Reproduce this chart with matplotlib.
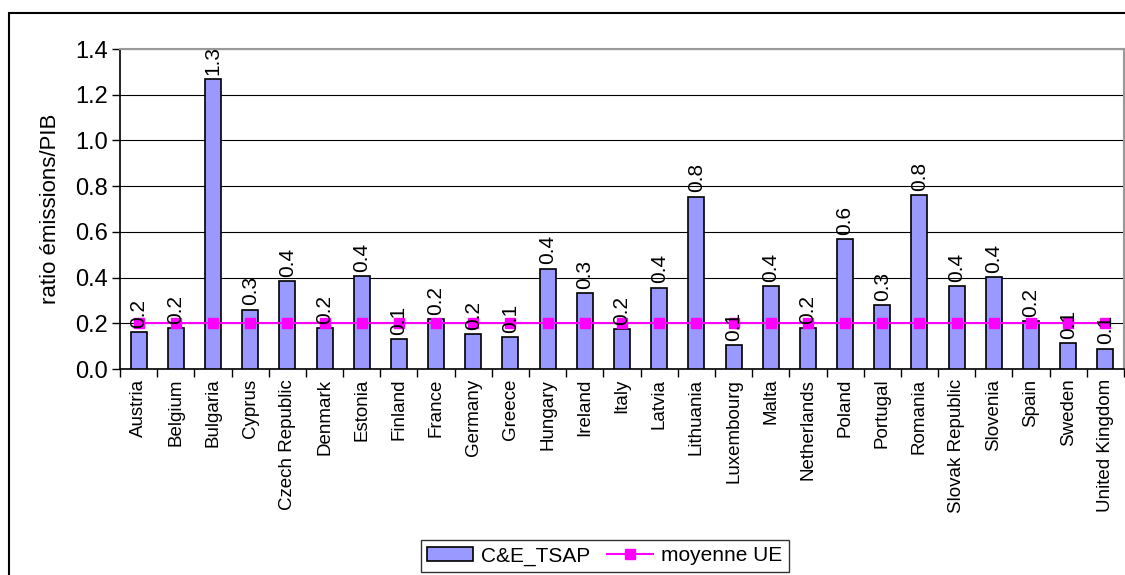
import numpy as np
import matplotlib.pyplot as plt
from matplotlib.patches import Rectangle

plt.rcParams['font.family'] = ['Liberation Sans', 'DejaVu Sans']

countries = ['Austria', 'Belgium', 'Bulgaria', 'Cyprus', 'Czech Republic', 'Denmark',
             'Estonia', 'Finland', 'France', 'Germany', 'Greece', 'Hungary', 'Ireland',
             'Italy', 'Latvia', 'Lithuania', 'Luxembourg', 'Malta', 'Netherlands',
             'Poland', 'Portugal', 'Romania', 'Slovak Republic', 'Slovenia', 'Spain',
             'Sweden', 'United Kingdom']
ratio = [0.16, 0.18, 1.27, 0.26, 0.385, 0.18, 0.405, 0.13, 0.217, 0.152, 0.141,
         0.439, 0.331, 0.173, 0.356, 0.754, 0.104, 0.363, 0.179, 0.567, 0.28,
         0.762, 0.363, 0.401, 0.211, 0.114, 0.089]
moyenne_ue = [0.2] * len(countries)
yticks = [0.0, 0.2, 0.4, 0.6, 0.8, 1.0, 1.2, 1.4]

fig = plt.figure(figsize=(11.25, 5.75), dpi=100)
ax = fig.add_axes([120 / 1125, 1 - 369 / 575, 1004 / 1125, 320 / 575])

x = np.arange(len(countries))
bars = ax.bar(x, ratio, width=0.43, color='#9999FF', edgecolor='black',
              linewidth=1.2, label='C&E_TSAP', zorder=3)
line, = ax.plot(x, moyenne_ue, color='#FF00FF', marker='s', markersize=7,
                linewidth=1.5, label='moyenne UE', zorder=4)

for xi, v in zip(x, ratio):
    ax.annotate(f'{v:.1f}', (xi, v), xytext=(0, 3), textcoords='offset points',
                rotation=90, ha='center', va='bottom', fontsize=15, zorder=5)

ax.set_xlim(-0.5, len(countries) - 0.5)
ax.set_ylim(0, 1.4)
ax.set_yticks(yticks)
ax.set_yticklabels([f'{t:.1f}' for t in yticks], fontsize=17)
ax.yaxis.grid(True, color='black', linewidth=0.8, zorder=0)
ax.set_ylabel('ratio émissions/PIB', fontsize=16, labelpad=10)

ax.set_xticks(x)
ax.set_xticklabels(countries, rotation=90, fontsize=13.5)
ax.tick_params(axis='x', which='major', length=0, pad=7)
ax.set_xticks(np.arange(-0.5, len(countries), 1), minor=True)
ax.tick_params(axis='x', which='minor', length=6, width=1, direction='out')
ax.tick_params(axis='y', length=6, width=1, direction='out', pad=3)

for side in ['top', 'right']:
    ax.spines[side].set_color('#999999')
    ax.spines[side].set_linewidth(1.5)
for side in ['left', 'bottom']:
    ax.spines[side].set_color('black')
    ax.spines[side].set_linewidth(1.2)

leg = fig.legend([bars, line], ['C&E_TSAP', 'moyenne UE'], loc='center',
                 bbox_to_anchor=(605 / 1125, 1 - 556 / 575), ncol=2,
                 fontsize=15, frameon=True, fancybox=False, edgecolor='black',
                 handlelength=2.2, handletextpad=0.4, columnspacing=0.8,
                 borderpad=0.3)
leg.get_frame().set_linewidth(1.0)

fig.patches.append(Rectangle((9 / 1125, -0.1), 1.2, 1 - 13 / 575 + 0.1,
                             transform=fig.transFigure, fill=False,
                             edgecolor='black', linewidth=1.5, clip_on=False))

fig.savefig('out.png', dpi=100)
